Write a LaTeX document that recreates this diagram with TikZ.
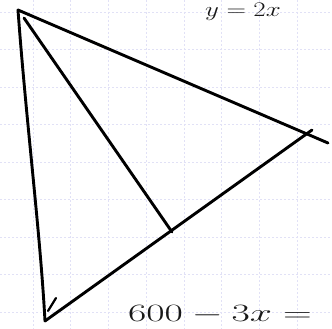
\documentclass[tikz,border=0pt]{standalone}
\begin{document}
\begin{tikzpicture}[x=1pt,y=-1pt,
  gridline/.style={draw=gray!45!blue!15, line width=0.6pt, dash pattern=on 2pt off 2pt},
  pen/.style={draw=black, line width=2.9pt, line cap=round, line join=round},
  hand/.style={inner sep=0pt, text=black!90}]
\useasboundingbox (0,0) rectangle (332,329);
\fill[white] (0,0) rectangle (332,329);
% grid
\foreach \i in {0,...,7} {\draw[gridline] (33+37.7*\i,0) -- (33+37.7*\i,329);}
\foreach \j in {0,...,8} {\draw[gridline] (0,12+37.5*\j) -- (332,12+37.5*\j);}
% vertices
\coordinate (A) at (18,10);
\coordinate (B) at (45,321);
\coordinate (C) at (328,143);
\coordinate (D) at (312,130);
\coordinate (F) at (172,232);
\coordinate (A2) at (24,18);
\coordinate (T1) at (48,311);
\coordinate (T2) at (56,298);
% triangle
\draw[pen] (A) .. controls (26,120) and (40,230) .. (B);
\draw[pen] (A) -- (C);
\draw[pen] (B) -- (D);
\draw[pen] (A2) -- (F);
\draw[pen, line width=2.2pt] (T1) -- (T2);
% texts
\node[hand, font=\fontsize{20}{22}\selectfont, anchor=base west] (top) at (205,17) {\scalebox{1.3}[1]{$y=2x$}};
\node[hand, font=\fontsize{34}{36}\selectfont, anchor=base west] (bot) at (128,321) {\scalebox{1.6}[1]{$600-3x=$}};
\end{tikzpicture}
\end{document}
